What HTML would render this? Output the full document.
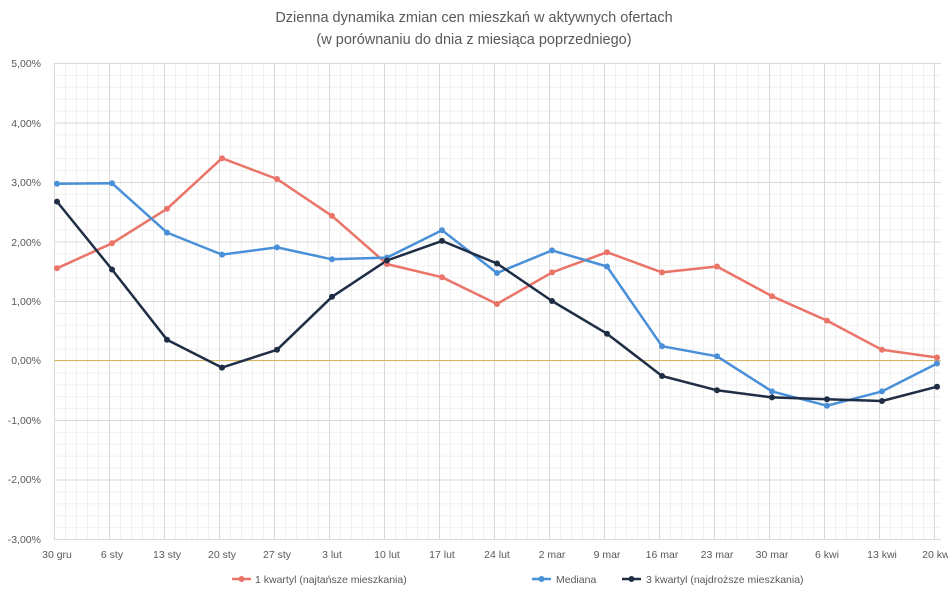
<!DOCTYPE html>
<html><head><meta charset="utf-8"><style>
body{margin:0;background:#fff;}
svg{display:block;font-family:"Liberation Sans",sans-serif;}
</style></head><body>
<svg width="948" height="593" viewBox="0 0 948 593">
<defs>
<pattern id="mv" x="54" y="0" width="11" height="10" patternUnits="userSpaceOnUse"><line x1="0.5" y1="0" x2="0.5" y2="10" stroke="#f0f0f0" stroke-width="1"/></pattern>
<pattern id="mh" x="0" y="63" width="10" height="11.9" patternUnits="userSpaceOnUse"><line x1="0" y1="0.5" x2="10" y2="0.5" stroke="#f0f0f0" stroke-width="1"/></pattern>
</defs>
<text x="474" y="22" text-anchor="middle" font-size="14.5" fill="#595959">Dzienna  dynamika zmian cen mieszkań w aktywnych ofertach</text>
<text x="474" y="44" text-anchor="middle" font-size="14.5" fill="#595959">(w porównaniu do dnia z miesiąca poprzedniego)</text>
<rect x="54" y="63" width="887" height="476" fill="url(#mv)"/>
<rect x="54" y="63" width="887" height="476" fill="url(#mh)"/>
<g stroke="#d9d9d9" stroke-width="1">
<line x1="54" y1="63.5" x2="941" y2="63.5"/><line x1="54" y1="123" x2="941" y2="123"/><line x1="54" y1="182.5" x2="941" y2="182.5"/><line x1="54" y1="242" x2="941" y2="242"/><line x1="54" y1="301.5" x2="941" y2="301.5"/><line x1="54" y1="420.5" x2="941" y2="420.5"/><line x1="54" y1="480" x2="941" y2="480"/><line x1="54" y1="539.5" x2="941" y2="539.5"/>
<line x1="54.5" y1="63" x2="54.5" y2="539"/><line x1="109.5" y1="63" x2="109.5" y2="539"/><line x1="164.5" y1="63" x2="164.5" y2="539"/><line x1="219.5" y1="63" x2="219.5" y2="539"/><line x1="274.5" y1="63" x2="274.5" y2="539"/><line x1="329.5" y1="63" x2="329.5" y2="539"/><line x1="384.5" y1="63" x2="384.5" y2="539"/><line x1="439.5" y1="63" x2="439.5" y2="539"/><line x1="494.5" y1="63" x2="494.5" y2="539"/><line x1="549.5" y1="63" x2="549.5" y2="539"/><line x1="604.5" y1="63" x2="604.5" y2="539"/><line x1="659.5" y1="63" x2="659.5" y2="539"/><line x1="714.5" y1="63" x2="714.5" y2="539"/><line x1="769.5" y1="63" x2="769.5" y2="539"/><line x1="824.5" y1="63" x2="824.5" y2="539"/><line x1="879.5" y1="63" x2="879.5" y2="539"/><line x1="934.5" y1="63" x2="934.5" y2="539"/>
</g>
<line x1="54" y1="360.5" x2="941" y2="360.5" stroke="#d6b460" stroke-width="1"/>
<g font-size="10.5" fill="#595959" text-anchor="end">
<text x="41" y="67">5,00%</text><text x="41" y="127">4,00%</text><text x="41" y="186">3,00%</text><text x="41" y="246">2,00%</text><text x="41" y="305">1,00%</text><text x="41" y="364">0,00%</text><text x="41" y="424">-1,00%</text><text x="41" y="483">-2,00%</text><text x="41" y="543">-3,00%</text>
</g>
<g font-size="10.5" fill="#595959" text-anchor="middle">
<text x="57" y="558">30 gru</text><text x="112" y="558">6 sty</text><text x="167" y="558">13 sty</text><text x="222" y="558">20 sty</text><text x="277" y="558">27 sty</text><text x="332" y="558">3 lut</text><text x="387" y="558">10 lut</text><text x="442" y="558">17 lut</text><text x="497" y="558">24 lut</text><text x="552" y="558">2 mar</text><text x="607" y="558">9 mar</text><text x="662" y="558">16 mar</text><text x="717" y="558">23 mar</text><text x="772" y="558">30 mar</text><text x="827" y="558">6 kwi</text><text x="882" y="558">13 kwi</text><text x="937" y="558">20 kwi</text>
</g>
<g fill="none" stroke-width="2.5" stroke-linejoin="round">
<polyline stroke="#ea7468" points="57,268.3 112,243.3 167,208.8 222,158.2 277,179 332,215.9 387,264.1 442,277.2 497,304 552,272.4 607,252.2 662,272.4 717,266.5 772,296.2 827,320.6 882,349.8 937,357.5"/>
<polyline stroke="#4a90d9" points="57,183.8 112,183.2 167,232.6 222,254.6 277,247.4 332,259.3 387,257.6 442,230.2 497,273 552,250.4 607,266.5 662,346.2 717,356.3 772,391.4 827,405.7 882,391.4 937,363.5"/>
<polyline stroke="#1f2d45" points="57,201.6 112,269.5 167,339.7 222,367.6 277,349.8 332,296.8 387,260.5 442,240.9 497,263.5 552,301 607,333.7 662,376 717,390.3 772,397.4 827,399.2 882,401 937,386.7"/>
</g>
<g fill="#ea7468"><circle cx="57" cy="268.3" r="3"/><circle cx="112" cy="243.3" r="3"/><circle cx="167" cy="208.8" r="3"/><circle cx="222" cy="158.2" r="3"/><circle cx="277" cy="179" r="3"/><circle cx="332" cy="215.9" r="3"/><circle cx="387" cy="264.1" r="3"/><circle cx="442" cy="277.2" r="3"/><circle cx="497" cy="304" r="3"/><circle cx="552" cy="272.4" r="3"/><circle cx="607" cy="252.2" r="3"/><circle cx="662" cy="272.4" r="3"/><circle cx="717" cy="266.5" r="3"/><circle cx="772" cy="296.2" r="3"/><circle cx="827" cy="320.6" r="3"/><circle cx="882" cy="349.8" r="3"/><circle cx="937" cy="357.5" r="3"/></g>
<g fill="#4a90d9"><circle cx="57" cy="183.8" r="3"/><circle cx="112" cy="183.2" r="3"/><circle cx="167" cy="232.6" r="3"/><circle cx="222" cy="254.6" r="3"/><circle cx="277" cy="247.4" r="3"/><circle cx="332" cy="259.3" r="3"/><circle cx="387" cy="257.6" r="3"/><circle cx="442" cy="230.2" r="3"/><circle cx="497" cy="273" r="3"/><circle cx="552" cy="250.4" r="3"/><circle cx="607" cy="266.5" r="3"/><circle cx="662" cy="346.2" r="3"/><circle cx="717" cy="356.3" r="3"/><circle cx="772" cy="391.4" r="3"/><circle cx="827" cy="405.7" r="3"/><circle cx="882" cy="391.4" r="3"/><circle cx="937" cy="363.5" r="3"/></g>
<g fill="#1f2d45"><circle cx="57" cy="201.6" r="3"/><circle cx="112" cy="269.5" r="3"/><circle cx="167" cy="339.7" r="3"/><circle cx="222" cy="367.6" r="3"/><circle cx="277" cy="349.8" r="3"/><circle cx="332" cy="296.8" r="3"/><circle cx="387" cy="260.5" r="3"/><circle cx="442" cy="240.9" r="3"/><circle cx="497" cy="263.5" r="3"/><circle cx="552" cy="301" r="3"/><circle cx="607" cy="333.7" r="3"/><circle cx="662" cy="376" r="3"/><circle cx="717" cy="390.3" r="3"/><circle cx="772" cy="397.4" r="3"/><circle cx="827" cy="399.2" r="3"/><circle cx="882" cy="401" r="3"/><circle cx="937" cy="386.7" r="3"/></g>
<g font-size="10.5" fill="#595959">
<line x1="232" y1="579" x2="251" y2="579" stroke="#ea7468" stroke-width="2.5"/><circle cx="241.5" cy="579" r="3" fill="#ea7468"/><text x="255" y="583">1 kwartyl (najtańsze mieszkania)</text>
<line x1="532" y1="579" x2="551" y2="579" stroke="#4a90d9" stroke-width="2.5"/><circle cx="541.5" cy="579" r="3" fill="#4a90d9"/><text x="556" y="583">Mediana</text>
<line x1="622" y1="579" x2="641" y2="579" stroke="#1f2d45" stroke-width="2.5"/><circle cx="631.5" cy="579" r="3" fill="#1f2d45"/><text x="646" y="583">3 kwartyl (najdroższe mieszkania)</text>
</g>
</svg>
</body></html>
